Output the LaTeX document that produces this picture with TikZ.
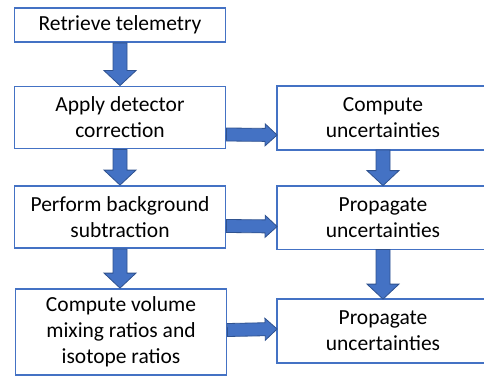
\documentclass[tikz,border=0pt]{standalone}
\usepackage{fontspec}
\setmainfont{Carlito}
\usetikzlibrary{calc}
\definecolor{boxblue}{HTML}{4472C4}
\definecolor{arrowedge}{HTML}{2F528F}

\begin{document}
\begin{tikzpicture}[x=1pt, y=-1pt,
    box/.style={draw=boxblue, line width=1.8pt, fill=white, align=center, inner sep=0pt,
        minimum width=211pt, minimum height=62pt, font=\fontsize{21.5}{26}\selectfont},
    openbox/.style={box, draw=none, minimum width=210pt},
    fatarrow/.style n args={3}{draw=arrowedge, fill=boxblue, line width=.8pt,
        to path={($(\tikztostart)!#1!90:(\tikztotarget)$)
            -- ($(\tikztotarget)!#3!(\tikztostart)!#1!-90:(\tikztostart)$)
            -- ($(\tikztotarget)!#3!(\tikztostart)!#2!-90:(\tikztostart)$)
            -- (\tikztotarget)
            -- ($(\tikztotarget)!#3!(\tikztostart)!#2!90:(\tikztostart)$)
            -- ($(\tikztotarget)!#3!(\tikztostart)!#1!90:(\tikztostart)$)
            -- ($(\tikztostart)!#1!-90:(\tikztotarget)$) -- cycle}},
    downblock/.style={fatarrow={7pt}{16pt}{15pt}},
    rightblock/.style={fatarrow={6.5pt}{11pt}{12pt}}]
    \useasboundingbox (0,0) rectangle (484,377);
    \clip (0,0) rectangle (484,377);
    % left column
    \node[box, minimum height=34pt] (telemetry) at (120,25) {Retrieve telemetry};
    \node[box] (detector) at (120,117.5) {Apply detector\\correction};
    \node[box] (background) at (120,217) {Perform background\\subtraction};
    \node[box, minimum height=86pt] (mixing) at (121,332) {Compute volume\\mixing ratios and\\isotope ratios};
    % right column, cut off by the right edge
    \node[openbox] (uncert) at (383,118) {Compute\\uncertainties};
    \node[openbox] (propa) at (383,217.5) {Propagate\\uncertainties};
    \node[openbox] (propb) at (383,331) {Propagate\\uncertainties};
    \foreach \n in {uncert, propa, propb}
        \draw[boxblue, line width=1.8pt] ([xshift=20pt]\n.north east) -- (\n.north west)
            -- (\n.south west) -- ([xshift=20pt]\n.south east);
    % block arrows
    \draw[downblock] (telemetry.south) to (detector.north);
    \draw[downblock] (detector.south) to (background.north);
    \draw[downblock] (background.south) to (background.south |- mixing.north);
    \draw[downblock] (uncert.south) to (propa.north);
    \draw[downblock] (propa.south) to (propb.north);
    \draw[rightblock] ([yshift=-17pt]detector.east) to ([yshift=-17pt]uncert.west);
    \draw[rightblock] ([yshift=-9pt]background.east) to ([yshift=-9pt]propa.west);
    \draw[rightblock] ([yshift=2pt]mixing.east) to ([yshift=2pt]propb.west);
\end{tikzpicture}
\end{document}
